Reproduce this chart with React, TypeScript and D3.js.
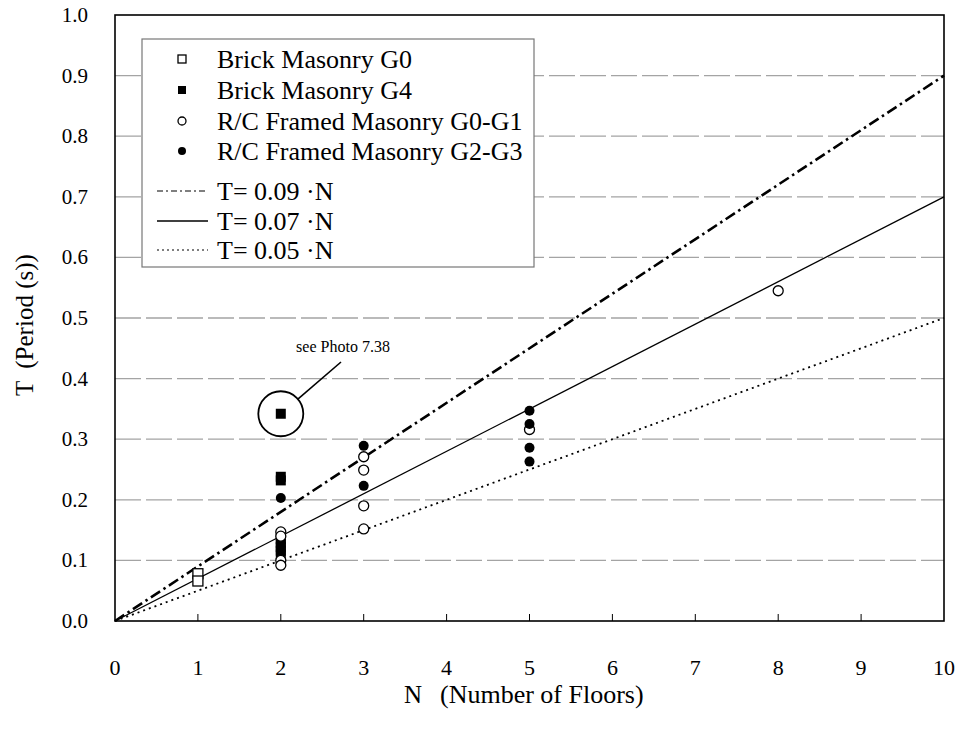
import React from 'react';
import * as d3 from 'd3';

type Pt = [number, number];

const brickG0: Pt[] = [[1, 0.078], [1, 0.066]];
const brickG4: Pt[] = [[2, 0.342], [2, 0.238], [2, 0.232], [2, 0.135], [2, 0.128], [2, 0.122], [2, 0.116], [2, 0.11]];
const rcG0G1: Pt[] = [[2, 0.147], [2, 0.14], [2, 0.1], [2, 0.092], [3, 0.271], [3, 0.249], [3, 0.19], [3, 0.152], [5, 0.316], [8, 0.545]];
const rcG2G3: Pt[] = [[2, 0.203], [3, 0.289], [3, 0.223], [5, 0.347], [5, 0.325], [5, 0.286], [5, 0.263]];
const coefficients = [0.09, 0.07, 0.05];
const lineLabels = ['T= 0.09 ·N', 'T= 0.07 ·N', 'T= 0.05 ·N'];
const markerLabels = ['Brick Masonry G0', 'Brick Masonry G4', 'R/C Framed Masonry G0-G1', 'R/C Framed Masonry G2-G3'];
const xTicks = [0, 1, 2, 3, 4, 5, 6, 7, 8, 9, 10];
const yTicks = [0, 0.1, 0.2, 0.3, 0.4, 0.5, 0.6, 0.7, 0.8, 0.9, 1.0];
const annotated: Pt = [2, 0.342];
const annotationText = 'see Photo 7.38';

const FONT = '"Liberation Serif", "Times New Roman", serif';

const lineStyles = [
  { w: 2.6, dash: '11,4,2.5,4', lw: 1.2, ldash: '6,3,2,3' },
  { w: 1.3, dash: null as string | null, lw: 1.3, ldash: null as string | null },
  { w: 1.8, dash: '2,4', lw: 1.2, ldash: '2,3' },
];

function Marker({ kind, x, y, s }: { kind: number; x: number; y: number; s: number }) {
  if (kind === 0)
    return <rect x={x - s / 2} y={y - s / 2} width={s} height={s} fill="#fff" stroke="#000" strokeWidth={1.3} />;
  if (kind === 1) return <rect x={x - s / 2} y={y - s / 2} width={s} height={s} fill="#000" />;
  if (kind === 2) return <circle cx={x} cy={y} r={s / 2} fill="#fff" stroke="#000" strokeWidth={1.3} />;
  return <circle cx={x} cy={y} r={s / 2} fill="#000" />;
}

export default function App() {
  const W = 965, H = 735;
  const left = 115, right = 944, top = 15, bottom = 621;
  const x = d3.scaleLinear().domain([0, 10]).range([left, right]);
  const y = d3.scaleLinear().domain([0, 1]).range([bottom, top]);
  const line = d3.line<Pt>().x(d => x(d[0])).y(d => y(d[1]));

  const series = [brickG0, brickG4, rcG0G1, rcG2G3];

  const lg = { x: 142, y: 39, w: 392, h: 228 };
  const rowY = [59, 90, 121, 151];
  const lineRowY = [191, 221, 250];

  const cx = x(annotated[0]), cy = y(annotated[1]);
  const r = 22.5;
  const tx = 341, ty = 362;
  const ang = Math.atan2(ty - cy, tx - cx);

  return (
    <svg width={W} height={H} style={{ position: 'absolute', left: 0, top: 0, background: '#fff' }} fontFamily={FONT}>
      <rect x={0} y={0} width={W} height={H} fill="#fff" />
      {/* gridlines */}
      {yTicks.filter(t => t > 0 && t < 1).map(t => (
        <line key={t} x1={left} x2={right} y1={y(t)} y2={y(t)} stroke="#a4a4a4" strokeWidth={1.3} strokeDasharray="26,5" />
      ))}
      {/* x ticks */}
      {xTicks.filter(t => t > 0 && t < 10).map(t => (
        <line key={t} x1={x(t)} x2={x(t)} y1={bottom} y2={bottom - 7} stroke="#000" strokeWidth={1} />
      ))}
      {/* legend box */}
      <rect x={lg.x} y={lg.y} width={lg.w} height={lg.h} fill="#fff" stroke="#777" strokeWidth={1.2} />
      {/* reference lines */}
      {coefficients.map((c, i) => (
        <path key={c} d={line([[0, 0], [10, 10 * c]]) || ''} fill="none" stroke="#000"
          strokeWidth={lineStyles[i].w} strokeDasharray={lineStyles[i].dash || undefined} />
      ))}
      {/* data */}
      {series.map((s, k) => s.map((d, j) => (
        <Marker key={k + '-' + j} kind={k} x={x(d[0])} y={y(d[1])} s={10} />
      )))}
      {/* annotation */}
      <circle cx={cx} cy={cy} r={r} fill="none" stroke="#000" strokeWidth={1.8} />
      <line x1={cx + r * Math.cos(ang)} y1={cy + r * Math.sin(ang)} x2={tx} y2={ty} stroke="#000" strokeWidth={1.6} />
      <text x={tx + 2} y={ty - 10} fontSize={16} textAnchor="middle">{annotationText}</text>
      {/* frame */}
      <rect x={left} y={top} width={right - left} height={bottom - top} fill="none" stroke="#000" strokeWidth={1.6} />
      {/* legend content */}
      {markerLabels.map((l, i) => (
        <g key={l}>
          <Marker kind={i} x={182} y={rowY[i]} s={8} />
          <text x={217} y={rowY[i] + 9} fontSize={26}>{l}</text>
        </g>
      ))}
      {lineLabels.map((l, i) => (
        <g key={l}>
          <line x1={157} x2={208} y1={lineRowY[i]} y2={lineRowY[i]} stroke="#000" strokeWidth={lineStyles[i].lw}
            strokeDasharray={lineStyles[i].ldash || undefined} />
          <text x={217} y={lineRowY[i] + 9} fontSize={26}>{l}</text>
        </g>
      ))}
      {/* tick labels */}
      {yTicks.map(t => (
        <text key={t} x={88} y={y(t) + 7} fontSize={21} textAnchor="end">{t.toFixed(1)}</text>
      ))}
      {xTicks.map(t => (
        <text key={t} x={x(t)} y={675} fontSize={22} textAnchor="middle">{t}</text>
      ))}
      {/* axis titles */}
      <text x={404} y={703} fontSize={25}>
        <tspan>N</tspan>
        <tspan x={440} fontSize={26}>(Number of Floors)</tspan>
      </text>
      <text transform="translate(33,396) rotate(-90)" fontSize={25}>
        <tspan>T</tspan>
        <tspan dx={12} fontSize={25}>(Period (s))</tspan>
      </text>
    </svg>
  );
}
